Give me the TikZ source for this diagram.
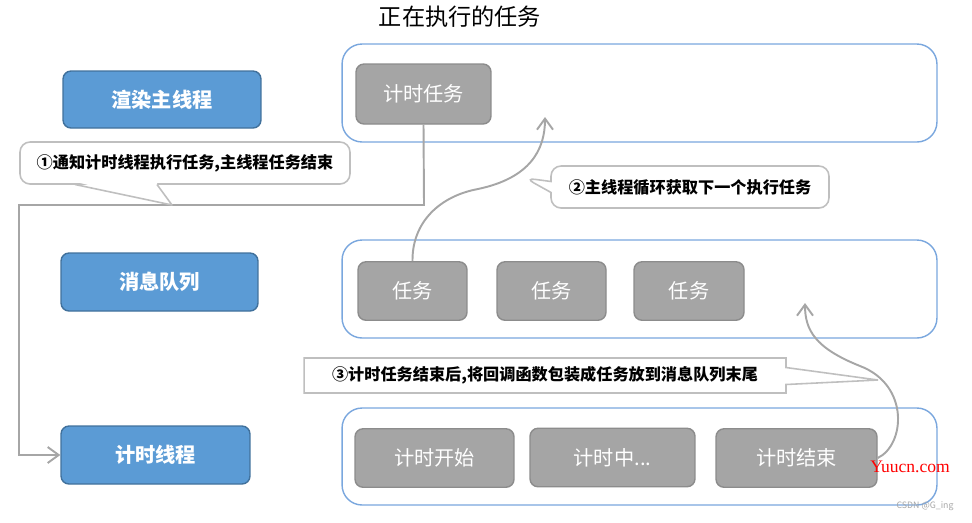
\documentclass[tikz,border=0pt]{standalone}
\usepackage{fontspec}
\setmainfont{Noto Sans CJK SC}
\newfontfamily\wmfont{Liberation Serif}
\usepackage{xcolor}
\usetikzlibrary{shapes.callouts, arrows.meta, positioning, calc}

\definecolor{threadblue}{HTML}{5B9BD5}
\definecolor{threadedge}{HTML}{41719C}
\definecolor{frameblue}{HTML}{7AA7DE}
\definecolor{taskgray}{HTML}{A5A5A5}
\definecolor{taskedge}{HTML}{8C8C8C}
\definecolor{linegray}{HTML}{A6A6A6}
\definecolor{notegray}{HTML}{BFBFBF}

\begin{document}
\begin{tikzpicture}[x=0.02cm, y=-0.02cm,
  thread/.style={rectangle, rounded corners=1.6mm, draw=threadedge, fill=threadblue, line width=0.8pt, text=white, font=\bfseries\fontsize{11.5}{13}\selectfont},
  frame/.style={rectangle, rounded corners=4mm, draw=frameblue, fill=white, line width=0.8pt, minimum width=11.9cm, minimum height=1.96cm},
  task/.style={rectangle, rounded corners=1.6mm, draw=taskedge, fill=taskgray, line width=0.8pt, text=white, font=\fontsize{11.5}{13}\selectfont, minimum height=1.17cm},
  note/.style={draw=notegray, fill=white, line width=0.9pt, font=\bfseries\fontsize{9.2}{11}\selectfont},
  flow/.style={draw=linegray, line width=1.1pt, -{Straight Barb[length=2.2mm, width=3.2mm]}}]
\useasboundingbox (0,0) rectangle (972,522);

% title
\node[font=\fontsize{13.2}{15}\selectfont] (title) at (460,17) {正在执行的任务};

% threads on the left
\node[thread, minimum width=3.96cm, minimum height=1.14cm] (render) at (162,99.5) {渲染主线程};
\node[thread, minimum width=3.94cm, minimum height=1.16cm] (queue) at (159.5,282) {消息队列};
\node[thread, minimum width=3.78cm, minimum height=1.16cm] (timer) at (155.5,455) {计时线程};

% frames on the right
\node[frame] (running) at (639.5,93) {};
\node[frame] (msgs) at (639.5,289) {};
\node[frame, minimum height=1.94cm] (ticks) at (639.5,456.5) {};

% tasks
\node[task, minimum width=2.7cm, minimum height=1.2cm] (job) at (423.5,94) {计时任务};
\node[task, minimum width=2.18cm] (t1) at (412.5,291) {任务};
\node[task, minimum width=2.18cm] (t2) at (551.5,291) {任务};
\node[task, minimum width=2.2cm] (t3) at (689,291) {任务};
\node[task, minimum width=3.18cm] (start) at (434.5,458) {计时开始};
\node[task, minimum width=3.3cm] (mid) at (612.5,457.5) {计时中...};
\node[task, minimum width=3.22cm] (stop) at (796.5,458) {计时结束};

% step 1: hand over to the timer thread
\coordinate (turn) at (424,205);
\coordinate (corner) at (19,205);
\coordinate (low) at (19,455);
\draw[flow] (job.south) -- (turn) -- (corner) -- (low) -- (timer.west);
\node[note, rectangle, rounded corners=2mm, minimum width=6.6cm, minimum height=0.84cm] (n1) at (185,163) {①通知计时线程执行任务,主线程任务结束};
\coordinate (tip1) at (172,205);
\fill[white] (76,182) -- (tip1) -- (156,182) -- cycle;
\draw[notegray, line width=0.9pt, line join=round] (75,184.5) -- (tip1) -- (157,184.5);

% step 2: main thread picks the next task
\coordinate (pick) at (545,117);
\draw[flow] (t1.north) .. controls (412,222) and (440,196) .. (478,189) .. controls (530,178) and (545,150) .. (pick);
\node[note, rectangle callout, rounded corners=2mm, minimum width=5.56cm, minimum height=0.84cm,
  callout absolute pointer={(525,178)}, callout pointer width=0.22cm] (n2) at (690,187) {②主线程循环获取下一个执行任务};

% step 3: callback goes to the end of the queue
\coordinate (tail) at (805,303);
\draw[flow] (stop.east) .. controls (905,445) and (910,385) .. (860,366) .. controls (815,348) and (805,330) .. (tail);
\node[note, rectangle callout, minimum width=9.64cm, minimum height=0.7cm,
  callout absolute pointer={(878,380)}, callout pointer width=0.34cm] (n3) at (545,375.5) {③计时任务结束后,将回调函数包装成任务放到消息队列末尾};

% marks on the image
\node[text=red, font=\wmfont\fontsize{10}{12}\selectfont, inner sep=0pt] (site) at (910,467) {Yuucn.com};
\node[text=gray!70, font=\fontsize{5}{6}\selectfont, inner sep=0pt] (csdn) at (925,506) {CSDN @G\_ing};
\end{tikzpicture}
\end{document}
